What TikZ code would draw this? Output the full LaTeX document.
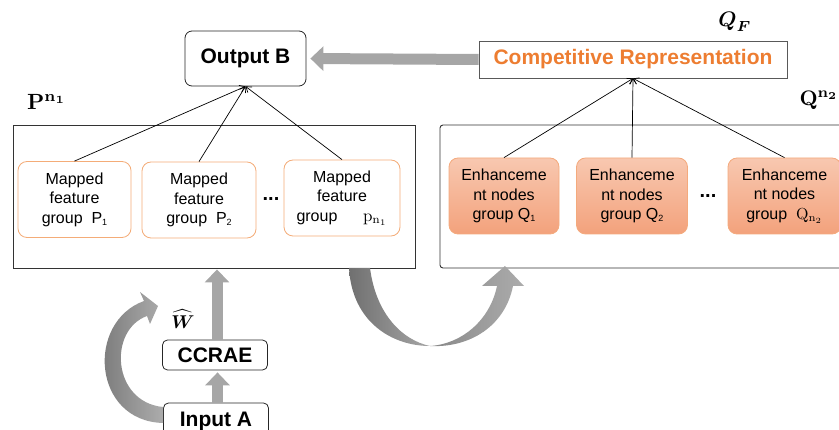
\documentclass[tikz,border=0pt]{standalone}
\usepackage{amsmath}
\usepackage{graphicx}
\usepackage[no-math]{fontspec}
\setmainfont{Liberation Sans}
\usetikzlibrary{arrows.meta,calc}
\definecolor{orangeT}{RGB}{237,125,49}
\definecolor{orangeB}{RGB}{244,172,120}
\definecolor{enhTop}{RGB}{248,200,176}
\definecolor{enhBot}{RGB}{243,162,124}
\definecolor{enhBorder}{RGB}{244,170,125}
\definecolor{arrowG}{RGB}{166,166,166}
\definecolor{darkG}{RGB}{112,112,112}
\definecolor{lightG}{RGB}{172,172,172}
\newcommand{\bigmath}[2]{{\fontsize{10}{12}\selectfont\scalebox{#1}{$#2$}}}
\begin{document}
\begin{tikzpicture}[x=1pt,y=-1pt,
  titlebox/.style={draw=black!85, rounded corners=7pt, line width=0.8pt, inner sep=0pt,
    font=\bfseries\fontsize{21}{24}\selectfont},
  bigbox/.style={draw=black!80, line width=0.9pt, inner sep=0pt},
  mapbox/.style={draw=orangeB, fill=white, rounded corners=9pt, line width=0.8pt, inner sep=0pt,
    align=center, font=\fontsize{16}{19.5}\selectfont, minimum height=76pt},
  enhbox/.style={draw=enhBorder, top color=enhTop, bottom color=enhBot, rounded corners=9pt,
    line width=0.8pt, inner sep=0pt, align=center, font=\fontsize{16}{19.5}\selectfont, minimum height=76pt},
  thinarrow/.style={draw=black, line width=0.7pt, -{Straight Barb[length=5pt,width=7pt]}},
  grayarrow/.style={draw=arrowG, line width=11pt, -{Triangle[length=13pt,width=24pt]}},
  lab/.style={inner sep=0pt},
  dots/.style={inner sep=0pt, font=\bfseries\fontsize{20}{22}\selectfont}
]
\clip (0,0) rectangle (839,430);

% big containers
\node[bigbox, minimum width=402pt, minimum height=143pt] (left) at (214,196.5) {};
\node[bigbox, rounded corners=3pt, minimum width=412pt, minimum height=143pt] (right) at (646,196.5) {};

% top boxes
\node[titlebox, minimum width=121pt, minimum height=55pt] (outB) at (245.5,58.5) {Output B};
\node[draw=black!65, line width=0.8pt, inner sep=0pt, minimum width=308pt, minimum height=37pt,
  text=orangeT, font=\bfseries\fontsize{21}{24}\selectfont] (comp) at (633,59.5) {Competitive Representation};

% labels
\node[lab, anchor=south west] (pl) at (27,109.5) {\bigmath{2.2}{\mathbf{P}^{\mathbf{n}_{\mathbf{1}}}}};
\node[lab, anchor=south east] (ql) at (838.5,109.5) {\bigmath{2.1}{\mathbf{Q}^{\mathbf{n}_{\mathbf{2}}}}};
\node[lab] (qf) at (735,22) {\bigmath{2.1}{\boldsymbol{Q}_{\boldsymbol{F}}}};
\node[lab] (wh) at (183,319) {\bigmath{1.85}{\boldsymbol{\widehat{W}}}};

% mapped feature groups
\node[mapbox, minimum width=113pt] (m1) at (74.5,199.5) {Mapped\\feature\\group\ \ P\raisebox{-0.25ex}{\fontsize{9}{9}\selectfont 1}};
\node[mapbox, minimum width=114pt] (m2) at (199,200) {Mapped\\feature\\group\ \ P\raisebox{-0.25ex}{\fontsize{9}{9}\selectfont 2}};
\node[mapbox, minimum width=116pt] (m3) at (342,198) {Mapped\\feature\\group\hspace{1.6em}\bigmath{1.7}{\mathrm{p}_{\mathrm{n}_1}}};
\node[dots] (d1) at (271,199) {...};

% enhancement node groups
\node[enhbox, minimum width=110pt] (e1) at (504,196) {Enhanceme\\nt nodes\\group Q\raisebox{-0.25ex}{\fontsize{9}{9}\selectfont 1}};
\node[enhbox, minimum width=111pt] (e2) at (632,196) {Enhanceme\\nt nodes\\group Q\raisebox{-0.25ex}{\fontsize{9}{9}\selectfont 2}};
\node[enhbox, minimum width=113pt] (e3) at (784.5,196) {Enhanceme\\nt nodes\\group\ \ \bigmath{1.6}{\mathrm{Q}_{\mathrm{n}_2}}};
\node[dots] (d2) at (708,196) {...};

% bottom boxes
\node[titlebox, rounded corners=5pt, minimum width=105pt, minimum height=30pt] (ccrae) at (215,355) {CCRAE};
\node[titlebox, rounded corners=5pt, minimum width=105pt, minimum height=36pt] (inA) at (216,421) {Input A};

% thin arrows
\foreach \m in {m1,m2,m3} \draw[thinarrow] (\m.north) -- (outB.south);
\foreach \e in {e1,e2,e3} \draw[thinarrow] (\e.north) -- (comp.south);

% gray straight arrows
\draw[grayarrow, shorten >=4pt] (comp.west) -- (outB.east);
\draw[grayarrow, shorten >=2pt] ($(inA.north)+(1.5,0)$) -- ($(ccrae.south)+(2.5,0)$);
\draw[grayarrow, shorten >=1pt] ($(ccrae.north)+(2,0)$) -- ($(left.south)+(3,0)$);

% curved arrow beside Input A
\shade[left color=darkG, right color=lightG]
  (163,423) .. controls (92,421) and (86,322) .. (144,301)
  -- (140,292) -- (158,306) -- (150,324) -- (147,316)
  .. controls (108,330) and (112,402) .. (163,407) -- cycle;

% U-shaped arrow between containers
\shade[left color=darkG, right color=lightG!90!darkG]
  (349,268) .. controls (352,322) and (392,346) .. (430,346)
  .. controls (402,340) and (376,314) .. (370,268) -- cycle;
\shade[left color=darkG!60!lightG, right color=lightG]
  (430,346) .. controls (462,344) and (490,320) .. (497,286)
  -- (482,286) -- (505,266) -- (524,286) -- (513,286)
  .. controls (505,326) and (470,348) .. (430,346) -- cycle;
\end{tikzpicture}
\end{document}
